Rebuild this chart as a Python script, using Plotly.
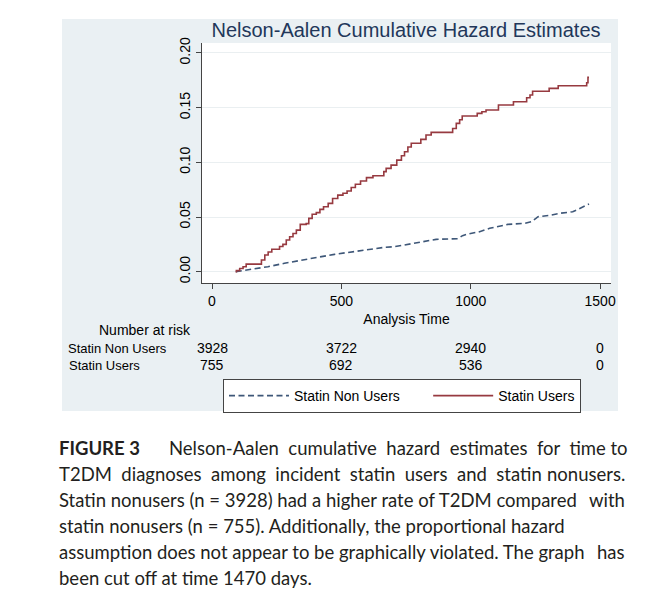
import plotly.graph_objects as go

# ---------------- data ----------------
users_time = [91, 94, 107, 120, 132, 191, 204, 217, 231, 261, 274, 287, 300, 313, 326, 341,
              364, 374, 387, 403, 417, 431, 449, 466, 486, 506, 522, 538, 554, 574, 597, 622,
              664, 673, 692, 714, 732, 744, 757, 770, 807, 827, 847, 930, 944, 957, 967,
              1025, 1043, 1059, 1107, 1165, 1216, 1229, 1239, 1303, 1338, 1448, 1453, 1457]
users_hazard = [0.000, 0.001, 0.003, 0.0046, 0.007, 0.0107, 0.0153, 0.018, 0.0205, 0.023, 0.025,
                0.029, 0.032, 0.035, 0.038, 0.0433, 0.044, 0.0488, 0.0525, 0.054, 0.057, 0.0594,
                0.0625, 0.067, 0.070, 0.0717, 0.0738, 0.077, 0.080, 0.083, 0.086, 0.0878, 0.0915,
                0.0945, 0.0975, 0.102, 0.106, 0.1097, 0.114, 0.1174, 0.121, 0.125, 0.1274, 0.131,
                0.1356, 0.139, 0.1423, 0.1448, 0.1463, 0.1478, 0.1524, 0.1554, 0.159, 0.1615,
                0.165, 0.1676, 0.170, 0.1728, 0.1777, 0.1777]

nonusers_time = [92, 152, 216, 280, 345, 409, 473, 538, 603, 667, 706, 744, 783, 815, 866, 950,
                 968, 989, 1034, 1073, 1111, 1143, 1208, 1234, 1253, 1260, 1304, 1343, 1394,
                 1420, 1446, 1457]
nonusers_hazard = [0.0, 0.0022, 0.0046, 0.0077, 0.0107, 0.0132, 0.0159, 0.018, 0.0205, 0.0223,
                   0.0229, 0.0244, 0.026, 0.0274, 0.0296, 0.0302, 0.033, 0.0345, 0.0366, 0.0397,
                   0.0418, 0.0433, 0.0442, 0.0457, 0.049, 0.0503, 0.0515, 0.0534, 0.0548, 0.058,
                   0.061, 0.0619]

x_ticks = [0, 500, 1000, 1500]
y_ticks = [0.00, 0.05, 0.10, 0.15, 0.20]
risk_times = [0, 500, 1000, 1500]
risk_nonusers = [3928, 3722, 2940, 0]
risk_users = [755, 692, 536, 0]
risk_labels = ["Statin Non Users", "Statin Users"]
series_names = ["Statin Non Users", "Statin Users"]

title_text = "Nelson-Aalen Cumulative Hazard Estimates"
x_title = "Analysis Time"

# caption lines: (label, body, tail)
caption_lines = [
    ("FIGURE 3", "Nelson-Aalen cumulative hazard estimates for time", "to"),
    (None, "T2DM diagnoses among incident statin users and statin", "nonusers."),
    (None, "Statin nonusers (n = 3928) had a higher rate of T2DM compared", "with"),
    (None, "statin nonusers (n = 755). Additionally, the proportional hazard", None),
    (None, "assumption does not appear to be graphically violated. The graph", "has"),
    (None, "been cut off at time 1470 days.", None),
]
cap_wide_spacing = [True, True, False, False, False, False]
cap_tail_inline = [True, False, False, False, False, False]

# ---------------- layout geometry (pixels) ----------------
W, H = 663, 609
PL, PR, PT, PB = 202, 611, 43, 283
CAP_LEFT, CAP_BODY1, CAP_RIGHT = 57, 166.6, 627
cap_y = [448, 474, 500, 526, 552, 578]


def fx(p):
    return (p - PL) / (PR - PL)


def fy(p):
    return (PB - p) / (PB - PT)


FONT = "Liberation Sans, Arial, Helvetica, sans-serif"
CAP_FONT = "Lato, Noto Sans, sans-serif"
RED = "#973A40"
BLUE = "#3E5778"
NBSP = "\u00a0"

fig = go.Figure()
fig.add_trace(go.Scatter(x=nonusers_time, y=nonusers_hazard, mode="lines",
                         name=series_names[0] + NBSP * 6,
                         line=dict(color=BLUE, width=1.6, dash="6px,3.5px", shape="linear")))
fig.add_trace(go.Scatter(x=users_time, y=users_hazard, mode="lines",
                         name=series_names[1],
                         line=dict(color=RED, width=1.6, shape="hv")))

shapes = [
    dict(type="rect", xref="paper", yref="paper", x0=fx(62), x1=fx(618), y0=fy(411), y1=fy(19),
         fillcolor="#EAF0F3", line=dict(width=0), layer="below"),
    dict(type="rect", xref="paper", yref="paper", x0=0, x1=1, y0=0, y1=1,
         fillcolor="white", line=dict(width=0), layer="below"),
]

ann = []
# Number at risk table
ann.append(dict(text="Number at risk", xref="paper", yref="paper", x=fx(145), y=fy(330),
                xanchor="center", yanchor="middle", showarrow=False,
                font=dict(family=FONT, size=14, color="black")))
row_y = [348, 365]
row_x = [66, 67]
for lab, vals, yy, xx in zip(risk_labels, [risk_nonusers, risk_users], row_y, row_x):
    ann.append(dict(text=lab, xref="paper", yref="paper", x=fx(xx), y=fy(yy),
                    xanchor="left", yanchor="middle", showarrow=False,
                    font=dict(family=FONT, size=13, color="black")))
    for t, v in zip(risk_times, vals):
        ann.append(dict(text=str(v), xref="x", yref="paper", x=t, y=fy(yy),
                        xanchor="center", yanchor="middle", showarrow=False,
                        font=dict(family=FONT, size=14, color="black")))

# Caption
cap_font = dict(family=CAP_FONT, size=18.5, color="#231F20")
for (label, body, tail), wide, inline, yy in zip(caption_lines, cap_wide_spacing,
                                                 cap_tail_inline, cap_y):
    body_x = CAP_LEFT
    if label:
        ann.append(dict(text="<b>" + label + "</b>", xref="paper", yref="paper", x=fx(CAP_LEFT),
                        y=fy(yy), xanchor="left", yanchor="middle", showarrow=False,
                        font=cap_font))
        body_x = CAP_BODY1
    body_txt = body.replace(" ", " " + NBSP) if wide else body
    if tail and inline:
        body_txt = body_txt + " " + tail
    ann.append(dict(text=body_txt, xref="paper", yref="paper", x=fx(body_x), y=fy(yy),
                    xanchor="left", yanchor="middle", showarrow=False, font=cap_font))
    if tail and not inline:
        ann.append(dict(text=tail, xref="paper", yref="paper", x=fx(CAP_RIGHT), y=fy(yy),
                        xanchor="right", yanchor="middle", showarrow=False, font=cap_font))

fig.update_layout(
    width=W, height=H,
    margin=dict(l=PL, r=W - PR, t=PT, b=H - PB, pad=0),
    paper_bgcolor="white", plot_bgcolor="white",
    title=dict(text=title_text, x=fx(406), xref="paper", xanchor="center",
               y=1 - 30 / H, yanchor="middle",
               font=dict(family=FONT, size=20, color="#22375A")),
    xaxis=dict(range=[-38.7, 1542], tickvals=x_ticks, ticks="outside", ticklen=5,
               tickcolor="#444", showline=True, linecolor="#444", linewidth=1,
               showgrid=False, zeroline=False,
               tickfont=dict(family=FONT, size=14, color="black"),
               title=dict(text=x_title, standoff=6,
                          font=dict(family=FONT, size=14, color="black"))),
    yaxis=dict(range=[-0.0103, 0.2091], tickvals=y_ticks, tickformat=".2f", ticks="outside",
               ticklen=5, tickcolor="#444", showline=True, linecolor="#444", linewidth=1,
               showgrid=True, gridcolor="#EAEFF1", gridwidth=1, zeroline=False,
               tickangle=-90, tickfont=dict(family=FONT, size=14, color="black")),
    legend=dict(orientation="h", x=fx(223), xanchor="left", y=fy(379), yanchor="top",
                bgcolor="white", bordercolor="#444", borderwidth=1,
                font=dict(family=FONT, size=14, color="black"), itemwidth=60),
    shapes=shapes,
    annotations=ann,
)

fig.write_html("out.html", config={"displayModeBar": False},
               post_script="document.body.style.margin='0';")
